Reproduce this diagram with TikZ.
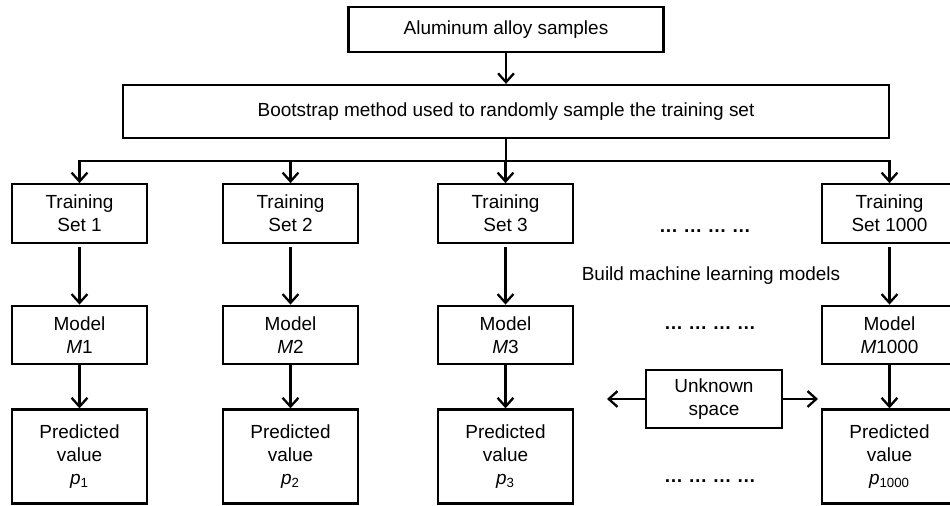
\documentclass[tikz,border=0pt]{standalone}
\usepackage{fontspec}
\setmainfont{Liberation Sans}
\usetikzlibrary{arrows.meta,calc,positioning}

\begin{document}
\begin{tikzpicture}[x=0.02cm, y=-0.02cm, node distance=2.43cm, line width=1.3pt,
  >={Straight Barb[length=5pt,width=9pt]},
  every node/.style={font=\fontsize{10.8pt}{13pt}\selectfont, align=center},
  block/.style={rectangle,draw,minimum width=2.7cm,minimum height=1.17cm,inner sep=1pt},
  predbox/.style={block,minimum height=1.88cm},
  dots/.style={font=\bfseries\fontsize{10.8pt}{13pt}\selectfont}]
\clip (0,0) rectangle (950,506);

\node[block,minimum width=6.3cm,minimum height=0.9cm] (alloy) at (506,29.5) {Aluminum alloy samples};
\node[block,minimum width=15.32cm,minimum height=1.06cm] (boot) at (506,111.5) {Bootstrap method used to randomly sample the training set};

\node[block] (t1) at (79.5,213.5) {Training\\Set 1};
\node[block] (t2) at (290.5,213.5) {Training\\Set 2};
\node[block] (t3) at (505.5,213.5) {Training\\Set 3};
\node[block] (t1000) at (889.5,213.5) {Training\\Set 1000};

\node[block] (m1) [below of = t1] {Model\\\textit{M}1};
\node[block] (m2) [below of = t2] {Model\\\textit{M}2};
\node[block] (m3) [below of = t3] {Model\\\textit{M}3};
\node[block] (m1000) [below of = t1000] {Model\\\textit{M}1000};

\node[predbox] (p1) [below of = m1] {Predicted\\value\\\textit{p}\textsubscript{1}};
\node[predbox] (p2) [below of = m2] {Predicted\\value\\\textit{p}\textsubscript{2}};
\node[predbox] (p3) [below of = m3] {Predicted\\value\\\textit{p}\textsubscript{3}};
\node[predbox] (p1000) [below of = m1000] {Predicted\\value\\\textit{p}\textsubscript{1000}};

\node[dots] (dotsA) at (705,231) {… … … …};
\node (build) at (711,276) {Build machine learning models};
\node[dots] (dotsB) at (710,328) {… … … …};
\node[dots] (dotsC) at (710,481) {… … … …};

\node[block,minimum width=2.72cm,minimum height=1.16cm] (unk) at (714,399) {Unknown\\space};
\coordinate (left) at (607,399);
\coordinate (right) at (818,399);

\coordinate (split) at (506,161);

\draw[->] (alloy) -- (boot);
\draw (boot) -- (split);
\foreach \n in {t1,t2,t3,t1000}
  \draw[->] (split) -| (\n.north);

\foreach \n in {1,2,3,1000} {
  \draw[->,shorten <=2pt] (t\n) -- (m\n);
  \draw[->] (m\n) -- (p\n);
}

\draw[->] (unk) -- (left);
\draw[->] (unk) -- (right);

\end{tikzpicture}
\end{document}
